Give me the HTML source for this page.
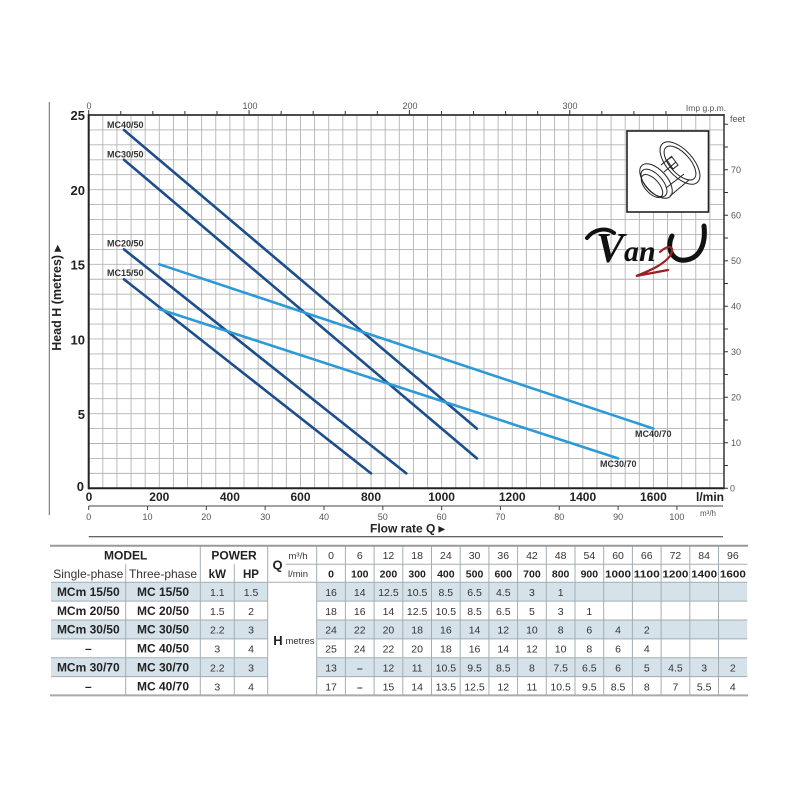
<!DOCTYPE html>
<html><head><meta charset="utf-8"><style>
html,body{margin:0;padding:0;background:#fff;}
svg{display:block;}
.ax{font-family:"Liberation Sans Narrow","Liberation Sans",sans-serif;}
.tb{font-family:"Liberation Sans",sans-serif;}
</style></head><body>
<svg width="800" height="800" viewBox="0 0 800 800" xmlns="http://www.w3.org/2000/svg">
<rect width="800" height="800" fill="#fff"/>
<!-- left frame line -->
<line x1="49.3" y1="102" x2="49.3" y2="515" stroke="#666" stroke-width="1"/>
<!-- grid -->
<path stroke="#b4b4b4" stroke-width="0.9" fill="none" d="
M102.82 115V488.3M116.94 115V488.3M131.05 115V488.3M145.17 115V488.3M159.29 115V488.3M173.41 115V488.3M187.53 115V488.3M201.64 115V488.3M215.76 115V488.3M229.88 115V488.3
M244 115V488.3M258.12 115V488.3M272.23 115V488.3M286.35 115V488.3M300.47 115V488.3M314.59 115V488.3M328.71 115V488.3M342.82 115V488.3M356.94 115V488.3M371.06 115V488.3
M385.18 115V488.3M399.3 115V488.3M413.41 115V488.3M427.53 115V488.3M441.65 115V488.3M455.77 115V488.3M469.89 115V488.3M484 115V488.3M498.12 115V488.3M512.24 115V488.3
M526.36 115V488.3M540.48 115V488.3M554.59 115V488.3M568.71 115V488.3M582.83 115V488.3M596.95 115V488.3M611.07 115V488.3M625.18 115V488.3M639.3 115V488.3M653.42 115V488.3
M667.54 115V488.3M681.66 115V488.3M695.77 115V488.3M709.89 115V488.3
M88.7 473.37H724M88.7 458.44H724M88.7 443.5H724M88.7 428.57H724M88.7 413.64H724M88.7 398.71H724M88.7 383.78H724M88.7 368.84H724
M88.7 353.91H724M88.7 338.98H724M88.7 324.05H724M88.7 309.12H724M88.7 294.18H724M88.7 279.25H724M88.7 264.32H724M88.7 249.39H724
M88.7 234.46H724M88.7 219.52H724M88.7 204.59H724M88.7 189.66H724M88.7 174.73H724M88.7 159.8H724M88.7 144.86H724M88.7 129.93H724"/>
<!-- plot frame -->
<line x1="88.7" y1="115" x2="724" y2="115" stroke="#333" stroke-width="1.8"/>
<line x1="88.7" y1="488.3" x2="724" y2="488.3" stroke="#222" stroke-width="2"/>
<line x1="88.7" y1="114" x2="88.7" y2="489.3" stroke="#222" stroke-width="2"/>
<line x1="724" y1="114" x2="724" y2="489.3" stroke="#333" stroke-width="1.5"/>
<!-- top ticks -->
<path stroke="#333" stroke-width="1" d="M88.7 115V110M120.77 115V111M152.84 115V111M184.91 115V111M216.98 115V111M249.05 115V110M281.12 115V111M313.19 115V111M345.26 115V111M377.33 115V111M409.4 115V110M441.47 115V111M473.54 115V111M505.61 115V111M537.68 115V111M569.75 115V110M601.82 115V111M633.89 115V111M665.96 115V111"/>
<g class="ax" font-size="9" fill="#555" text-anchor="middle">
<text x="89" y="109">0</text><text x="250" y="109">100</text><text x="410" y="109">200</text><text x="570" y="109">300</text>
<text x="706" y="111" font-size="8.5">Imp g.p.m.</text>
</g>
<!-- right ticks -->
<path stroke="#333" stroke-width="1" d="M724 488.3H728M724 465.55H728M724 442.79H728M724 420.04H728M724 397.29H728M724 374.53H728M724 351.78H728M724 329.03H728M724 306.27H728M724 283.52H728M724 260.77H728M724 238.01H728M724 215.26H728M724 192.5H728M724 169.75H728M724 147H728M724 124.24H728"/>
<g class="ax" font-size="9" fill="#555">
<text x="730" y="491.5">0</text><text x="731" y="446">10</text><text x="731" y="400.5">20</text><text x="731" y="355">30</text><text x="731" y="309.5">40</text><text x="731" y="264">50</text><text x="731" y="218.5">60</text><text x="731" y="173">70</text>
<text x="730" y="122">feet</text>
</g>
<!-- left axis labels -->
<g class="ax" font-size="13" font-weight="bold" fill="#222" text-anchor="end">
<text x="85" y="120">25</text><text x="85" y="195">20</text><text x="85" y="269.5">15</text><text x="85" y="344.5">10</text><text x="85" y="419">5</text><text x="84" y="491">0</text>
</g>
<text class="ax" font-size="12.5" font-weight="bold" fill="#222" text-anchor="middle" transform="translate(61,298) rotate(-90)">Head H (metres) ▸</text>
<!-- bottom l/min labels -->
<g class="ax" font-size="12" font-weight="bold" fill="#222" text-anchor="middle">
<text x="89" y="501">0</text><text x="159.3" y="501">200</text><text x="229.9" y="501">400</text><text x="300.5" y="501">600</text><text x="371" y="501">800</text><text x="441.6" y="501">1000</text><text x="512.2" y="501">1200</text><text x="582.8" y="501">1400</text><text x="653.4" y="501">1600</text>
<text x="724" y="501" text-anchor="end">l/min</text>
</g>
<!-- m3/h axis -->
<line x1="88.7" y1="506" x2="723" y2="506" stroke="#444" stroke-width="1"/>
<path stroke="#444" stroke-width="1" d="M88.7 506V510M147.52 506V510M206.34 506V510M265.16 506V510M323.98 506V510M382.8 506V510M441.62 506V510M500.44 506V510M559.26 506V510M618.08 506V510M676.9 506V510"/>
<g class="ax" font-size="9" fill="#555" text-anchor="middle">
<text x="88.7" y="520">0</text><text x="147.5" y="520">10</text><text x="206.3" y="520">20</text><text x="265.2" y="520">30</text><text x="324" y="520">40</text><text x="382.8" y="520">50</text><text x="441.6" y="520">60</text><text x="500.4" y="520">70</text><text x="559.3" y="520">80</text><text x="618.1" y="520">90</text><text x="676.9" y="520">100</text>
<text x="708" y="516" font-size="8">m³/h</text>
</g>
<text class="tb" x="370" y="532.5" font-size="12" font-weight="bold" fill="#222">Flow rate  Q  ▸</text>
<line x1="88.7" y1="536.7" x2="723" y2="536.7" stroke="#333" stroke-width="1"/>
<!-- curves -->
<g stroke-width="2.6" stroke-linecap="round" fill="none">
<line x1="124" y1="130" x2="476.9" y2="428.6" stroke="#1c4d8c"/>
<line x1="124" y1="159.8" x2="476.9" y2="458.4" stroke="#1c4d8c"/>
<line x1="124" y1="249.4" x2="406.3" y2="473.4" stroke="#1c4d8c"/>
<line x1="124" y1="279.3" x2="371" y2="473.4" stroke="#1c4d8c"/>
<line x1="159.3" y1="264.3" x2="653.4" y2="428.6" stroke="#2c99d8"/>
<line x1="159.3" y1="309.1" x2="618.1" y2="458.4" stroke="#2c99d8"/>
</g>
<g class="ax" font-size="9" font-weight="bold" fill="#333">
<text x="107" y="128">MC40/50</text>
<text x="107" y="157.5">MC30/50</text>
<text x="107" y="246.5">MC20/50</text>
<text x="107" y="276">MC15/50</text>
<text x="635" y="437">MC40/70</text>
<text x="600" y="467">MC30/70</text>
</g>
<!-- inset pump drawing -->
<rect x="627" y="131" width="81.5" height="81" fill="#fff" stroke="#222" stroke-width="1.6"/>
<g fill="none" stroke="#222" stroke-width="1">
<ellipse cx="680" cy="163" rx="13" ry="26" transform="rotate(-42 680 163)"/>
<ellipse cx="680" cy="163" rx="10" ry="21" transform="rotate(-42 680 163)"/>
<ellipse cx="656" cy="181" rx="11" ry="21" transform="rotate(-42 656 181)"/>
<ellipse cx="654" cy="183" rx="8.5" ry="17" transform="rotate(-42 654 183)"/>
<ellipse cx="652" cy="186" rx="7" ry="14" transform="rotate(-42 652 186)"/>
<path d="M661 165L672 156M670 196L689 180M664 172L676 162M666 188L684 174"/>
<path d="M667 160L673 169L678 165L672 157Z"/>
</g>
<!-- logo -->
<g>
<path d="M587 238C594 229 606 227 614 233" stroke="#111" stroke-width="4" fill="none" stroke-linecap="round"/>
<text x="596" y="262" font-family="'Liberation Serif',serif" font-style="italic" font-weight="bold" font-size="42" fill="#111">V</text>
<text x="624" y="261" font-family="'Liberation Serif',serif" font-style="italic" font-weight="bold" font-size="30" fill="#111">an</text>
<path d="M672 236C666 248 672 262 686 260C700 258 706 244 704 226" stroke="#111" stroke-width="5" fill="none" stroke-linecap="round"/>
<path d="M660 252C668 244 676 246 670 256C664 264 652 270 636 276L668 270" stroke="#9b2024" stroke-width="2.2" fill="none" stroke-linecap="round"/>
</g>
<!-- TABLE -->
<g>
<rect x="51" y="582.3" width="216.7" height="18.8" fill="#d6e2ea"/>
<rect x="316.7" y="582.3" width="430.5" height="18.8" fill="#d6e2ea"/>
<rect x="51" y="620" width="216.7" height="18.9" fill="#d6e2ea"/>
<rect x="316.7" y="620" width="430.5" height="18.9" fill="#d6e2ea"/>
<rect x="51" y="657.7" width="216.7" height="18.9" fill="#d6e2ea"/>
<rect x="316.7" y="657.7" width="430.5" height="18.9" fill="#d6e2ea"/>
</g>
<g stroke="#a3adb4" stroke-width="1" fill="none">
<path d="M51 582.3H747.2M51 601.1H267.7M316.7 601.1H747.2M51 620H267.7M316.7 620H747.2M51 638.9H267.7M316.7 638.9H747.2M51 657.7H267.7M316.7 657.7H747.2M51 676.6H267.7M316.7 676.6H747.2"/>
<path d="M286 564.3H747.2"/>
<path d="M125.7 564.3V695.4M200.3 545.7V695.4M234.3 564.3V695.4M267.7 545.7V695.4M316.7 545.7V695.4
M345.4 545.7V695.4M374.1 545.7V695.4M402.8 545.7V695.4M431.5 545.7V695.4M460.2 545.7V695.4M488.9 545.7V695.4M517.6 545.7V695.4M546.3 545.7V695.4M575 545.7V695.4M603.7 545.7V695.4M632.4 545.7V695.4M661.1 545.7V695.4M689.8 545.7V695.4M718.5 545.7V695.4"/>
</g>
<line x1="50" y1="545.7" x2="748" y2="545.7" stroke="#999" stroke-width="2"/>
<line x1="50" y1="695.4" x2="748" y2="695.4" stroke="#aaa" stroke-width="2"/>
<g class="tb" fill="#222" text-anchor="middle">
<text x="125.7" y="559.5" font-size="12" font-weight="bold">MODEL</text>
<text x="234" y="559.5" font-size="12" font-weight="bold">POWER</text>
<text x="88.3" y="578" font-size="12" fill="#333">Single-phase</text>
<text x="163" y="578" font-size="12" fill="#333">Three-phase</text>
<text x="217.3" y="578" font-size="11.5" font-weight="bold">kW</text>
<text x="251" y="578" font-size="11.5" font-weight="bold">HP</text>
<text x="277.5" y="569.5" font-size="13" font-weight="bold">Q</text>
<text x="298" y="559" font-size="9.5" fill="#333">m³/h</text>
<text x="298" y="577" font-size="9.5" fill="#333">l/min</text>
<text x="278" y="645" font-size="13" font-weight="bold">H</text>
<text x="300" y="644" font-size="9.5" fill="#333">metres</text>
</g>
<g class="tb" font-size="12" font-weight="bold" fill="#222" text-anchor="middle">
<text x="88.3" y="596">MCm 15/50</text><text x="163" y="596">MC 15/50</text>
<text x="88.3" y="614.8">MCm 20/50</text><text x="163" y="614.8">MC 20/50</text>
<text x="88.3" y="633.7">MCm 30/50</text><text x="163" y="633.7">MC 30/50</text>
<text x="88.3" y="652.6">–</text><text x="163" y="652.6">MC 40/50</text>
<text x="88.3" y="671.5">MCm 30/70</text><text x="163" y="671.5">MC 30/70</text>
<text x="88.3" y="690.3">–</text><text x="163" y="690.3">MC 40/70</text>
</g>
<g class="tb" font-size="10.5" fill="#333" text-anchor="middle">
<text x="217.3" y="596">1.1</text><text x="251" y="596">1.5</text>
<text x="217.3" y="614.8">1.5</text><text x="251" y="614.8">2</text>
<text x="217.3" y="633.7">2.2</text><text x="251" y="633.7">3</text>
<text x="217.3" y="652.6">3</text><text x="251" y="652.6">4</text>
<text x="217.3" y="671.5">2.2</text><text x="251" y="671.5">3</text>
<text x="217.3" y="690.3">3</text><text x="251" y="690.3">4</text>
</g>
<g class="tb" font-size="10.5" fill="#333" text-anchor="middle">
<text x="331.05" y="559">0</text><text x="359.75" y="559">6</text><text x="388.45" y="559">12</text><text x="417.15" y="559">18</text><text x="445.85" y="559">24</text><text x="474.55" y="559">30</text><text x="503.25" y="559">36</text><text x="531.95" y="559">42</text><text x="560.65" y="559">48</text><text x="589.35" y="559">54</text><text x="618.05" y="559">60</text><text x="646.75" y="559">66</text><text x="675.45" y="559">72</text><text x="704.15" y="559">84</text><text x="732.85" y="559">96</text>
</g>
<g class="tb" font-size="10.5" font-weight="bold" fill="#222" text-anchor="middle">
<text x="331.05" y="577.5">0</text><text x="359.75" y="577.5">100</text><text x="388.45" y="577.5">200</text><text x="417.15" y="577.5">300</text><text x="445.85" y="577.5">400</text><text x="474.55" y="577.5">500</text><text x="503.25" y="577.5">600</text><text x="531.95" y="577.5">700</text><text x="560.65" y="577.5">800</text><text x="589.35" y="577.5">900</text><text x="618.05" y="577.5" textLength="26" lengthAdjust="spacingAndGlyphs">1000</text><text x="646.75" y="577.5" textLength="26" lengthAdjust="spacingAndGlyphs">1100</text><text x="675.45" y="577.5" textLength="26" lengthAdjust="spacingAndGlyphs">1200</text><text x="704.15" y="577.5" textLength="26" lengthAdjust="spacingAndGlyphs">1400</text><text x="732.85" y="577.5" textLength="26" lengthAdjust="spacingAndGlyphs">1600</text>
</g>
<g class="tb" font-size="10.5" fill="#333" text-anchor="middle">
<text x="331.05" y="596">16</text><text x="359.75" y="596">14</text><text x="388.45" y="596">12.5</text><text x="417.15" y="596">10.5</text><text x="445.85" y="596">8.5</text><text x="474.55" y="596">6.5</text><text x="503.25" y="596">4.5</text><text x="531.95" y="596">3</text><text x="560.65" y="596">1</text>
<text x="331.05" y="614.8">18</text><text x="359.75" y="614.8">16</text><text x="388.45" y="614.8">14</text><text x="417.15" y="614.8">12.5</text><text x="445.85" y="614.8">10.5</text><text x="474.55" y="614.8">8.5</text><text x="503.25" y="614.8">6.5</text><text x="531.95" y="614.8">5</text><text x="560.65" y="614.8">3</text><text x="589.35" y="614.8">1</text>
<text x="331.05" y="633.7">24</text><text x="359.75" y="633.7">22</text><text x="388.45" y="633.7">20</text><text x="417.15" y="633.7">18</text><text x="445.85" y="633.7">16</text><text x="474.55" y="633.7">14</text><text x="503.25" y="633.7">12</text><text x="531.95" y="633.7">10</text><text x="560.65" y="633.7">8</text><text x="589.35" y="633.7">6</text><text x="618.05" y="633.7">4</text><text x="646.75" y="633.7">2</text>
<text x="331.05" y="652.6">25</text><text x="359.75" y="652.6">24</text><text x="388.45" y="652.6">22</text><text x="417.15" y="652.6">20</text><text x="445.85" y="652.6">18</text><text x="474.55" y="652.6">16</text><text x="503.25" y="652.6">14</text><text x="531.95" y="652.6">12</text><text x="560.65" y="652.6">10</text><text x="589.35" y="652.6">8</text><text x="618.05" y="652.6">6</text><text x="646.75" y="652.6">4</text>
<text x="331.05" y="671.5">13</text><text x="359.75" y="671.5" font-weight="bold">–</text><text x="388.45" y="671.5">12</text><text x="417.15" y="671.5">11</text><text x="445.85" y="671.5">10.5</text><text x="474.55" y="671.5">9.5</text><text x="503.25" y="671.5">8.5</text><text x="531.95" y="671.5">8</text><text x="560.65" y="671.5">7.5</text><text x="589.35" y="671.5">6.5</text><text x="618.05" y="671.5">6</text><text x="646.75" y="671.5">5</text><text x="675.45" y="671.5">4.5</text><text x="704.15" y="671.5">3</text><text x="732.85" y="671.5">2</text>
<text x="331.05" y="690.3">17</text><text x="359.75" y="690.3" font-weight="bold">–</text><text x="388.45" y="690.3">15</text><text x="417.15" y="690.3">14</text><text x="445.85" y="690.3">13.5</text><text x="474.55" y="690.3">12.5</text><text x="503.25" y="690.3">12</text><text x="531.95" y="690.3">11</text><text x="560.65" y="690.3">10.5</text><text x="589.35" y="690.3">9.5</text><text x="618.05" y="690.3">8.5</text><text x="646.75" y="690.3">8</text><text x="675.45" y="690.3">7</text><text x="704.15" y="690.3">5.5</text><text x="732.85" y="690.3">4</text>
</g>
</svg>
</body></html>
